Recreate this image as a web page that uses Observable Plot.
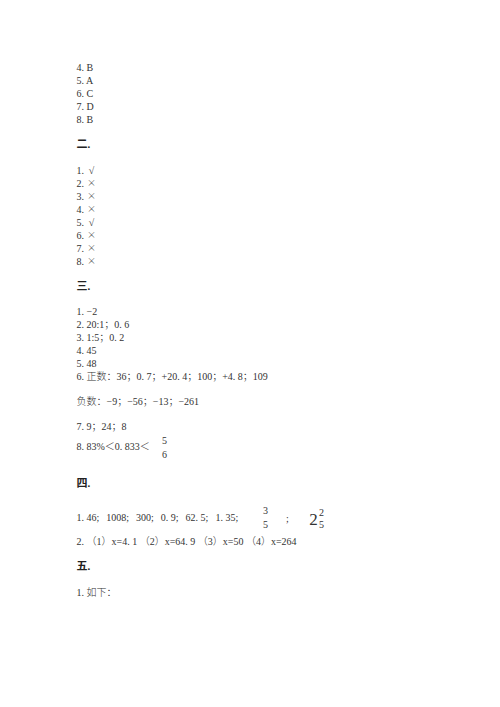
<!DOCTYPE html>
<html>
<head>
<meta charset="utf-8">
<script src="https://cdn.jsdelivr.net/npm/d3@7"></script>
<script src="https://cdn.jsdelivr.net/npm/@observablehq/plot@0.6"></script>
<style>
  html, body { margin: 0; padding: 0; background: #fff; }
</style>
</head>
<body>
<div id="chart"></div>
<script>
// ---- content (text of the answer sheet) ----
const answers1 = ["4. B", "5. A", "6. C", "7. D", "8. B"];
const heading2 = "二.";
const numbers2 = ["1.", "2.", "3.", "4.", "5.", "6.", "7.", "8."];
const marks2 = ["√", "×", "×", "×", "√", "×", "×", "×"];
const heading3 = "三.";
const answers3 = ["1. −2", "2. 20:1；0. 6", "3. 1:5；0. 2", "4. 45", "5. 48", "6. 正数：36；0. 7；+20. 4；100；+4. 8；109"];
const answers3Neg = ["负数：−9；−56；−13；−261"];
const answers3Seven = ["7. 9；24；8"];
const answers3Eight = ["8. 83%＜0. 833＜"];
const frac8 = ["5", "6"];
const heading4 = "四.";
const answers4One = ["1. 46;\u2002\u20091008;\u2002\u2009300;\u2002\u20090. 9;\u2002\u200962. 5;\u2002\u20091. 35;"];
const frac4 = ["3", "5"];
const sep4 = ";";
const mixed4 = ["2", "2", "5"];
const answers4Two = ["2. （1）x=4. 1 （2）x=64. 9 （3）x=50 （4）x=264"];
const heading5 = "五.";
const answers5 = ["1. 如下："];

// ---- layout (line flow) ----
const LEFT = 76, STEP = 13;
const rows = [];
let y = 67;
function lines(arr, gapAfter, bold = false) {
  const ys = [];
  arr.forEach((t, i) => { rows.push({text: t, x: LEFT, y, bold}); ys.push(y); if (i < arr.length - 1) y += STEP; });
  y += gapAfter;
  return ys;
}
lines(answers1, 25);
lines([heading2], 26, true);
const ys2 = lines(numbers2, 25);
const symRows = marks2.map((m, i) => ({text: m, x: 91, y: ys2[i], check: m === "√"}));
lines([heading3], 25, true);
lines(answers3, 25);
lines(answers3Neg, 25);
lines(answers3Seven, 20);
const y8 = y;
lines(answers3Eight, 37);
lines([heading4], 34, true);
const y41 = y;
lines(answers4One, 24);
lines(answers4Two, 25);
lines([heading5], 26, true);
lines(answers5, 0);

const small = [
  {text: frac8[0], x: 164, y: y8 - 6},
  {text: frac8[1], x: 164, y: y8 + 8},
  {text: frac4[0], x: 265, y: y41 - 7},
  {text: frac4[1], x: 265, y: y41 + 7},
  {text: sep4, x: 287, y: y41 + 1},
  {text: mixed4[1], x: 321, y: y41 - 5},
  {text: mixed4[2], x: 321, y: y41 + 7}
];
const big = [{text: mixed4[0], x: 313, y: y41 + 2}];

const font = "'Liberation Serif', 'Noto Sans CJK SC', serif";
const cjk = "'Noto Sans CJK SC', sans-serif";
const serifSym = "'Liberation Serif', 'DejaVu Serif', serif";
const chart = Plot.plot({
  width: 500,
  height: 707,
  margin: 0,
  style: {background: "#fff", fontFamily: font},
  x: {domain: [0, 500], range: [0, 500], axis: null},
  y: {domain: [0, 707], range: [0, 707], axis: null},
  marks: [
    Plot.text(rows.filter(d => !d.bold), {x: "x", y: "y", text: "text", textAnchor: "start", fontSize: 10, fontWeight: 300, fill: "#333", fontFamily: font}),
    Plot.text(rows.filter(d => d.bold), {x: "x", y: "y", text: "text", textAnchor: "start", fontSize: 11, fontWeight: "bold", fill: "#222", fontFamily: font}),
    Plot.text(symRows.filter(d => !d.check), {x: "x", y: "y", text: "text", textAnchor: "middle", fontSize: 9, fontWeight: 300, fill: "#444", fontFamily: cjk}),
    Plot.text(symRows.filter(d => d.check), {x: "x", y: "y", text: "text", textAnchor: "middle", fontSize: 10, fill: "#444", fontFamily: serifSym}),
    Plot.text(small, {x: "x", y: "y", text: "text", textAnchor: "middle", fontSize: 10, fill: "#333", fontFamily: font}),
    Plot.text(big, {x: "x", y: "y", text: "text", textAnchor: "middle", fontSize: 17, fill: "#333", fontFamily: font})
  ]
});
document.getElementById("chart").appendChild(chart);
</script>
</body>
</html>
